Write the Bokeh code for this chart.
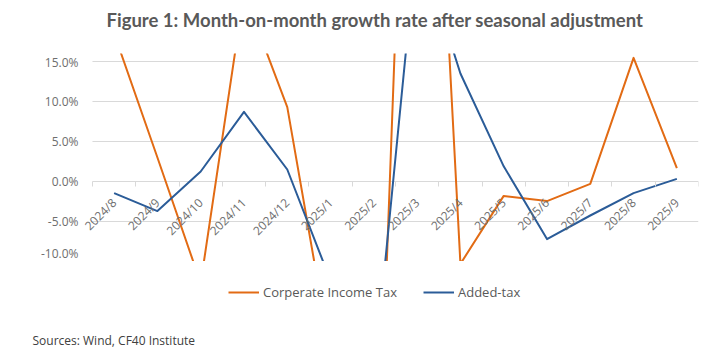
import math
from bokeh.plotting import figure
from bokeh.layouts import column
from bokeh.models import (Range1d, FixedTicker, PrintfTickFormatter, Legend,
                          LegendItem, Title, Label)
from bokeh.embed import file_html
from bokeh.resources import INLINE

# ---- data ----
months = ["2024/8", "2024/9", "2024/10", "2024/11", "2024/12", "2025/1", "2025/2",
          "2025/3", "2025/4", "2025/5", "2025/6", "2025/7", "2025/8", "2025/9"]
corporate_income_tax = [18.5, 3.0, -12.7, 23.6, 9.3, -21.7, -53.7,
                        92.0, -10.3, -1.8, -2.45, -0.3, 15.45, 1.67]
added_tax = [-1.45, -3.7, 1.25, 8.7, 1.5, -12.4, -24.5,
             30.5, 13.5, 1.9, -7.2, -4.25, -1.45, 0.33]
y_ticks = [-10, -5, 0, 5, 10, 15]
series_names = ["Corperate Income Tax", "Added-tax"]
title_text = "Figure 1: Month-on-month growth rate after seasonal adjustment"
source_text = "Sources: Wind, CF40 Institute"

ORANGE = "#E26B14"
BLUE = "#2B5C98"
GRID = "#D9D9D9"
TICK_TXT = "#6E6E6E"

n = len(months)
xs = [i + 0.5 for i in range(n)]
pad = 0.3  # room at the left so the first rotated label is not clipped


def blank(height, bottom=0):
    fig = figure(width=712, height=height, output_backend="svg",
                 toolbar_location=None, x_range=Range1d(0, n),
                 y_range=Range1d(1000, 1100), min_border_left=0,
                 min_border_right=0, min_border_top=0,
                 min_border_bottom=bottom)
    fig.axis.visible = False
    fig.grid.visible = False
    fig.outline_line_color = None
    fig.border_fill_color = "white"
    fig.background_fill_color = "white"
    return fig


# ---- header: title ----
h = blank(53)
h.add_layout(Label(x=27, y=34, x_units="screen", y_units="screen",
                   text=title_text, text_font="Lato", text_font_size="18.5px",
                   text_font_style="bold", text_color="#595959",
                   text_baseline="middle"))

# ---- main chart ----
p = figure(frame_width=619, frame_height=208, output_backend="svg",
           toolbar_location=None,
           x_range=Range1d(-pad, n), y_range=Range1d(-10, 16),
           min_border_left=79, min_border_right=14, min_border_top=0,
           min_border_bottom=0)
p.outline_line_color = None
p.background_fill_color = "white"
p.border_fill_color = "white"

# horizontal grid lines spanning the category area only
p.xgrid.visible = False
p.ygrid.visible = False
p.segment(x0=0, x1=n, y0=y_ticks, y1=y_ticks, line_color=GRID, line_width=1)

# y axis
p.yaxis.ticker = FixedTicker(ticks=y_ticks)
p.yaxis.formatter = PrintfTickFormatter(format="%.1f%%")
p.yaxis.axis_line_color = None
p.yaxis.major_tick_line_color = None
p.yaxis.minor_tick_line_color = None
p.yaxis.major_tick_out = 0
p.yaxis.major_tick_in = 0
p.yaxis.major_label_standoff = 1
p.yaxis.major_label_text_font = "Open Sans"
p.yaxis.major_label_text_font_size = "12px"
p.yaxis.major_label_text_color = TICK_TXT

# x axis drawn at y = 0
xa = p.xaxis[0]
xa.fixed_location = 0
xa.ticker = FixedTicker(ticks=xs, minor_ticks=list(range(n + 1)))
xa.major_label_overrides = {x: m for x, m in zip(xs, months)}
xa.major_tick_line_color = None
xa.major_tick_out = 0
xa.major_tick_in = 0
xa.minor_tick_line_color = GRID
xa.minor_tick_out = 5
xa.minor_tick_in = 0
xa.axis_line_color = None
xa.major_label_orientation = math.pi / 4
xa.major_label_standoff = 14
xa.major_label_text_font = "Open Sans"
xa.major_label_text_font_size = "12px"
xa.major_label_text_color = TICK_TXT

p.line(xs, corporate_income_tax, line_color=ORANGE, line_width=2,
       line_join="round")
p.line(xs, added_tax, line_color=BLUE, line_width=2, line_join="round")

# ---- footer: legend + source ----
f = blank(97, bottom=30)

# legend keys share the series data but are hidden
k1 = f.line(xs, corporate_income_tax, line_color=ORANGE, line_width=2,
            visible=False)
k2 = f.line(xs, added_tax, line_color=BLUE, line_width=2, visible=False)

legend = Legend(items=[LegendItem(label=series_names[0], renderers=[k1]),
                       LegendItem(label=series_names[1], renderers=[k2])],
                orientation="horizontal", location=(149, 26),
                glyph_width=31, glyph_height=20, label_height=20,
                label_standoff=4, spacing=26, padding=0, margin=0,
                background_fill_alpha=0, border_line_alpha=0,
                inactive_fill_alpha=0,
                label_text_font="Open Sans", label_text_font_size="13px",
                label_text_color="#595959")
f.add_layout(legend)

f.add_layout(Title(text=source_text, align="left", offset=-47, standoff=3,
                   text_font="Open Sans", text_font_size="12px",
                   text_font_style="normal", text_color="#404040"), "below")

layout = column(h, p, f, spacing=0)
open("out.html", "w").write(file_html(layout, INLINE))
